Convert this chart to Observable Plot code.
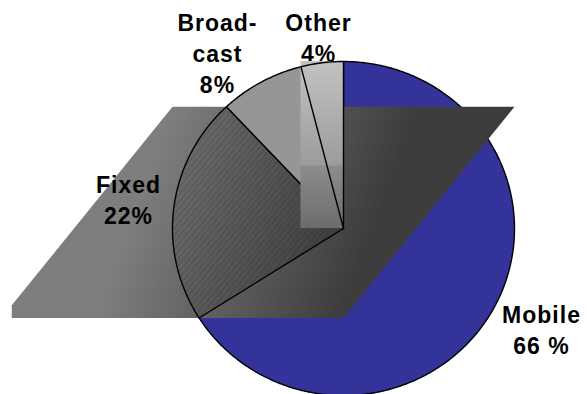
<!DOCTYPE html>
<html>
<head>
<meta charset="utf-8">
<script src="https://cdn.jsdelivr.net/npm/d3@7"></script>
<script src="https://cdn.jsdelivr.net/npm/@observablehq/plot@0.6"></script>
<style>
  html, body { margin: 0; padding: 0; background: #fff; }
  #chart svg { display: block; }
</style>
</head>
<body>
<div id="chart"></div>
<script>
// Market shares by segment, clockwise from 12 o'clock
const categories = ["Mobile", "Fixed", "Broadcast", "Other"];
const shares = [66, 22, 8, 4];
const labelLines = ["Mobile\n66 %", "Fixed\n22%", "Broad-\ncast\n8%", "Other\n4%"];

// Label anchors, in pie-radius units from the centre
const labelU = [1.158, -1.257, -0.737, -0.146];
const labelV = [-0.599, 0.177, 1.054, 1.147];

const W = 587, H = 394;
const cx = 343, cy = 228, rx = 171, ry = 167;

const arcs = d3.pie().sort(null)(shares);

function wedge(a0, a1) {
  const n = Math.max(2, Math.ceil((a1 - a0) / 0.01));
  const pts = [{u: 0, v: 0}];
  for (let i = 0; i <= n; i++) {
    const a = a0 + (a1 - a0) * i / n;
    pts.push({u: Math.sin(a), v: Math.cos(a)});
  }
  pts.push({u: 0, v: 0});
  return pts;
}
const wedges = arcs.map(a => wedge(a.startAngle, a.endAngle));
const [mobileW, fixedW, broadcastW, otherW] = wedges;

// Slanted backdrop panel spanning the Fixed segment's height
const vTop = Math.cos(arcs[1].endAngle);
const vBot = Math.cos(arcs[1].startAngle);
const uClip = -1.94;
const vClip = vTop - (-1 - uClip) * (vTop - vBot);
const panel = [
  {u: -1, v: vTop}, {u: 1, v: vTop}, {u: 0, v: vBot},
  {u: uClip, v: vBot}, {u: uClip, v: vClip}, {u: -1, v: vTop}
];

// Box around the Other segment
const otherBox = [{
  x1: d3.min(otherW, d => d.u), x2: d3.max(otherW, d => d.u),
  y1: d3.min(otherW, d => d.v), y2: d3.max(otherW, d => d.v)
}];

const labels = categories.map((c, i) => ({u: labelU[i], v: labelV[i], text: labelLines[i]}));

const pos = {x: "u", y: "v"};
const chart = Plot.plot({
  width: W,
  height: H,
  margin: 0,
  x: {domain: [-cx / rx, (W - cx) / rx], axis: null},
  y: {domain: [-(H - cy) / ry, cy / ry], axis: null},
  marks: [
    Plot.line(mobileW, {...pos, fill: "#333399", stroke: "black", strokeWidth: 1.4}),
    Plot.line(panel, {...pos, fill: "url(#panelFill)", stroke: "none"}),
    Plot.line(panel, {...pos, fill: "url(#panelHatch)", stroke: "none"}),
    Plot.line(fixedW, {...pos, fill: "url(#fixedHatch)", stroke: "black", strokeWidth: 1.4}),
    Plot.line(broadcastW, {...pos, fill: "#969696", stroke: "black", strokeWidth: 1.4}),
    Plot.text(labels, {
      ...pos, text: "text", fontSize: 23, fontWeight: "bold",
      fontFamily: "Liberation Sans, Arial, sans-serif", lineHeight: 1.35, fill: "black"
    }),
    Plot.rect(otherBox, {x1: "x1", x2: "x2", y1: "y1", y2: "y2", fill: "url(#otherFill)"}),
    Plot.line(otherW, {...pos, fill: "none", stroke: "black", strokeWidth: 1.4})
  ]
});

const svg = d3.select(chart);
svg.selectAll("g[aria-label=text] text").attr("letter-spacing", "1px");

const defs = svg.insert("defs", ":first-child");

const pg = defs.append("linearGradient").attr("id", "panelFill")
  .attr("gradientUnits", "userSpaceOnUse")
  .attr("x1", 187).attr("y1", 70).attr("x2", 402).attr("y2", 151);
pg.append("stop").attr("offset", 0).attr("stop-color", "#7d7d7d");
pg.append("stop").attr("offset", 1).attr("stop-color", "#3c3c3c");

const ph = defs.append("pattern").attr("id", "panelHatch")
  .attr("patternUnits", "userSpaceOnUse").attr("width", 6).attr("height", 6)
  .attr("patternTransform", "rotate(40)");
ph.append("line").attr("x1", 0).attr("y1", 0).attr("x2", 0).attr("y2", 6)
  .attr("stroke", "rgba(255,255,255,0.035)").attr("stroke-width", 1);

const fh = defs.append("pattern").attr("id", "fixedHatch")
  .attr("patternUnits", "userSpaceOnUse").attr("width", 4.5).attr("height", 4.5)
  .attr("patternTransform", "rotate(40)");
fh.append("rect").attr("width", 4.5).attr("height", 4.5).attr("fill", "rgba(0,0,0,0.1)");
fh.append("line").attr("x1", 0).attr("y1", 0).attr("x2", 0).attr("y2", 4.5)
  .attr("stroke", "rgba(0,0,0,0.32)").attr("stroke-width", 0.9);

const og = defs.append("linearGradient").attr("id", "otherFill")
  .attr("x1", 0).attr("y1", 0).attr("x2", 0).attr("y2", 1);
og.append("stop").attr("offset", 0).attr("stop-color", "#c2c2c2");
og.append("stop").attr("offset", 0.62).attr("stop-color", "#9c9c9c");
og.append("stop").attr("offset", 0.63).attr("stop-color", "#8c8c8c");
og.append("stop").attr("offset", 1).attr("stop-color", "#6c6c6c");

document.getElementById("chart").appendChild(chart);
</script>
</body>
</html>
